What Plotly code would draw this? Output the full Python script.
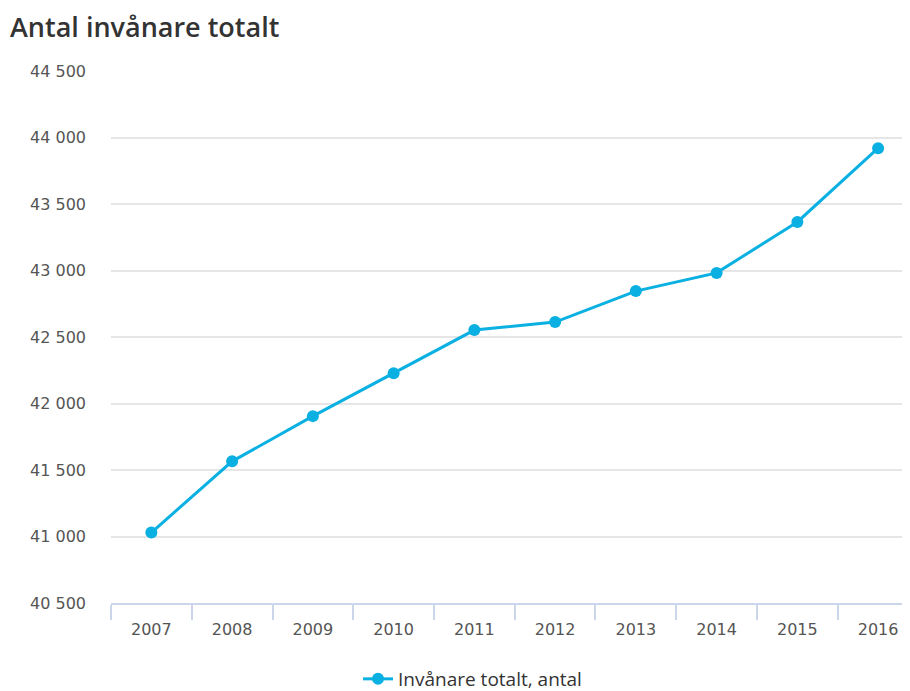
import plotly.graph_objects as go

years = ["2007", "2008", "2009", "2010", "2011", "2012", "2013", "2014", "2015", "2016"]
inhabitants = [41030, 41565, 41905, 42228, 42552, 42612, 42845, 42982, 43365, 43920]
series_name = "Invånare totalt, antal"
title_text = "Antal invånare totalt"

# page body has an 8px margin, so the figure is drawn at (8, 8)
OFF = 8
W, H = 910 - OFF, 691 - OFF
color = "#0ab0e2"

fig = go.Figure()
fig.add_trace(go.Scatter(
    x=years, y=inhabitants, name=series_name,
    mode="lines+markers",
    line=dict(color=color, width=3),
    marker=dict(color=color, size=12),
    showlegend=True,
))

fig.update_layout(
    width=W, height=H,
    margin=dict(l=111 - OFF, r=0, t=71 - OFF, b=88),
    paper_bgcolor="white", plot_bgcolor="white",
    separators=", ",
    title=dict(text=title_text, xref="container", yref="container",
               x=2 / W, y=1 - 20 / H, xanchor="left", yanchor="middle",
               font=dict(family="Open Sans", size=27, weight=600, color="#333333")),
    legend=dict(orientation="h", xref="container", yref="container",
                x=0.515, xanchor="center", y=12 / H, yanchor="middle",
                font=dict(family="Open Sans", size=19, color="#333333")),
    xaxis=dict(
        type="category", range=[-0.5, 9.395],
        tickson="boundaries", ticks="outside", ticklen=15, tickwidth=2, tickcolor="#ccd6eb",
        showline=True, linecolor="#ccd6eb", linewidth=2,
        showgrid=False, zeroline=False,
        ticklabelstandoff=11,
        tickfont=dict(family="DejaVu Sans", size=16, color="#555555"),
    ),
    yaxis=dict(
        range=[40500, 44500], tickvals=[40500, 41000, 41500, 42000, 42500, 43000, 43500, 44000, 44500],
        tickformat=",d",
        showgrid=True, gridcolor="#e6e6e6", gridwidth=2,
        zeroline=False, showline=False,
        ticklabelstandoff=24,
        tickfont=dict(family="DejaVu Sans", size=16, color="#555555"),
    ),
)

fig.write_html("out.html")
